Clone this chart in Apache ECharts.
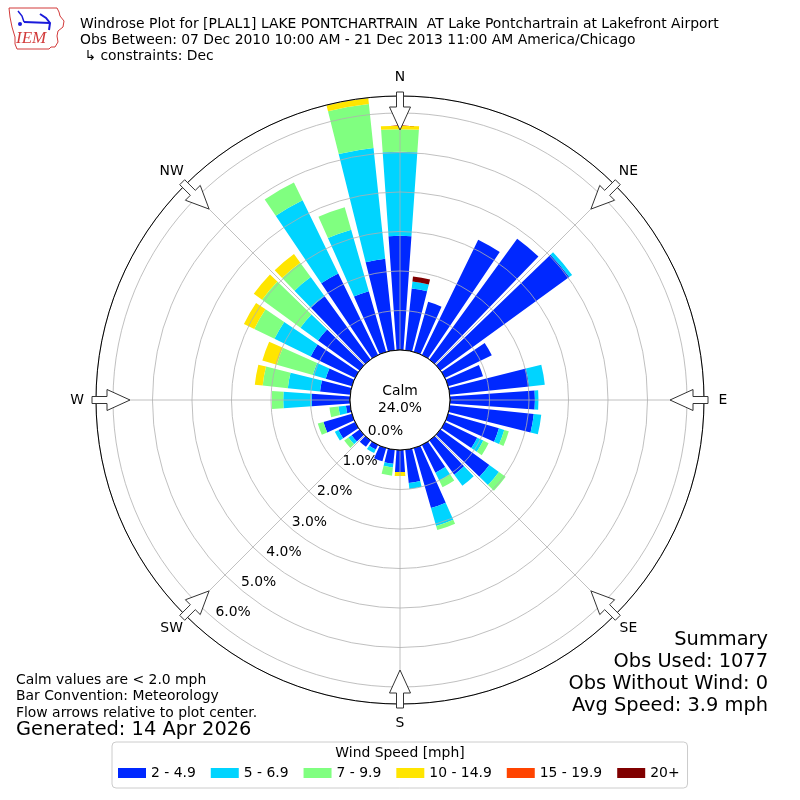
<!DOCTYPE html>
<html>
<head>
<meta charset="utf-8">
<title>Windrose Plot</title>
<script src="https://cdn.jsdelivr.net/npm/echarts@6/dist/echarts.min.js"></script>
<style>
  html, body { margin: 0; padding: 0; background: #fff; }
  #chart { width: 800px; height: 800px; }
</style>
</head>
<body>
<div id="chart"></div>
<script>
// direction bins, bar centre in degrees (10 deg each, clockwise from N)
var directions = [0, 10, 20, 30, 40, 50, 60, 70, 80, 90, 100, 110,
  120, 130, 140, 150, 160, 170, 180, 190, 200, 210, 220, 230,
  240, 250, 260, 270, 280, 290, 300, 310, 320, 330, 340, 350]

var speedBins = ['2 - 4.9', '5 - 6.9', '7 - 9.9', '10 - 14.9', '15 - 19.9', '20+']
var binColors = ['#0028ff', '#00d4ff', '#80ff80', '#ffe500', '#ff4400', '#800000']

// percent of observations, one value per direction
var pct2to5 = [2.89, 1.57, 1.32, 3.25, 3.78, 4.03, 1.32, 0.92, 2.02, 2.15, 2.14, 1.34,
  0.91, 1.53, 1.07, 0.78, 1.58, 0.85, 0.56, 0.36, 0.35, 0.13, 0.20, 0.25,
  0.47, 0.75, 0.11, 0.97, 0.77, 0.69, 1.25, 1.30, 1.98, 2.30, 1.60, 2.33]
var pct5to7 = [2.13, 0.18, 0, 0, 0, 0.09, 0, 0, 0.40, 0.09, 0.19, 0.14,
  0.17, 0.30, 0.35, 0.22, 0.47, 0.15, 0, 0.09, 0, 0.10, 0, 0.10,
  0.10, 0, 0.19, 0.72, 0.82, 0.34, 1.02, 0.55, 0.60, 2.06, 1.62, 2.82]
var pct7to10 = [0.57, 0, 0, 0, 0, 0, 0, 0, 0, 0, 0, 0.12,
  0.15, 0.21, 0, 0.19, 0.11, 0, 0, 0.21, 0, 0, 0, 0.13,
  0, 0.15, 0.23, 0.29, 0.64, 0.95, 0.57, 1.20, 0.45, 0.50, 0.59, 1.12]
var pct10to15 = [0.09, 0, 0, 0, 0, 0, 0, 0, 0, 0, 0, 0,
  0, 0, 0, 0, 0, 0, 0.10, 0, 0, 0, 0, 0,
  0, 0, 0, 0, 0.20, 0.38, 0.29, 0.26, 0.27, 0, 0, 0.15]
var pct15to20 = [0, 0, 0, 0, 0, 0, 0, 0, 0, 0, 0, 0,
  0, 0, 0, 0, 0, 0, 0, 0, 0, 0, 0, 0,
  0, 0, 0, 0, 0, 0, 0, 0, 0, 0, 0, 0]
var pct20up = [0, 0.13, 0, 0, 0, 0, 0, 0, 0, 0, 0, 0,
  0, 0, 0, 0, 0, 0, 0, 0, 0, 0, 0, 0,
  0, 0, 0, 0, 0, 0, 0, 0, 0, 0, 0, 0]

var radiusTicks = [0, 1, 2, 3, 4, 5, 6]
var compassLabels = ['N', 'NE', 'E', 'SE', 'S', 'SW', 'W', 'NW']
var calmPct = 24.0

var titleLines = [
  'Windrose Plot for [PLAL1] LAKE PONTCHARTRAIN  AT Lake Pontchartrain at Lakefront Airport',
  'Obs Between: 07 Dec 2010 10:00 AM - 21 Dec 2013 11:00 AM America/Chicago',
  ' \u21b3 constraints: Dec'
]
var summaryLines = ['Summary', 'Obs Used: 1077', 'Obs Without Wind: 0', 'Avg Speed: 3.9 mph']
var noteLines = ['Calm values are < 2.0 mph', 'Bar Convention: Meteorology', 'Flow arrows relative to plot center.']
var generatedText = 'Generated: 14 Apr 2026'

// layout
var cx = 400
var cy = 400
var innerR = 50
var outerR = 304
var rMax = 6.43
var font = 'DejaVu Sans'
var gridColor = '#b0b0b0'

var allSeries = [pct2to5, pct5to7, pct7to10, pct10to15, pct15to20, pct20up]

function rToPx (v) {
  return innerR + (outerR - innerR) * v / rMax
}

// point at distance s from centre, lateral offset t, compass angle deg
function polarPt (deg, s, t) {
  var a = deg * Math.PI / 180
  return [cx + s * Math.sin(a) + t * Math.cos(a), cy - s * Math.cos(a) + t * Math.sin(a)]
}

var graphics = []

// flow arrows and labels at the 8 compass points
compassLabels.forEach(function (name, i) {
  var deg = i * 45
  var pts = [
    polarPt(deg, 308, -3.5), polarPt(deg, 293, -3.5), polarPt(deg, 293, -10.5),
    polarPt(deg, 270, 0),
    polarPt(deg, 293, 10.5), polarPt(deg, 293, 3.5), polarPt(deg, 308, 3.5)
  ]
  graphics.push({
    type: 'polygon', z: 60,
    shape: { points: pts },
    style: { fill: '#fff', stroke: '#333', lineWidth: 1 }
  })
  var lp = polarPt(deg, 323, 0)
  graphics.push({
    type: 'text', z: 60, x: lp[0], y: lp[1],
    style: { text: name, fontFamily: font, fontSize: 13.9, fill: '#000', align: 'center', verticalAlign: 'middle' }
  })
})

// calm hole
graphics.push({
  type: 'circle', z: 50,
  shape: { cx: cx, cy: cy, r: innerR },
  style: { fill: '#fff', stroke: '#000', lineWidth: 1 }
})
graphics.push({
  type: 'text', z: 55, x: cx, y: cy,
  style: { text: 'Calm\n' + calmPct.toFixed(1) + '%', fontFamily: font, fontSize: 13.9, fill: '#000',
    align: 'center', verticalAlign: 'middle', lineHeight: 17 }
})

// radial tick labels along 220 deg
radiusTicks.forEach(function (v) {
  var p = polarPt(220, rToPx(v), 0)
  graphics.push({
    type: 'text', z: 55, x: p[0], y: p[1],
    style: { text: v.toFixed(1) + '%', fontFamily: font, fontSize: 13.9, fill: '#000',
      align: 'left', verticalAlign: 'bottom' }
  })
})

// header
titleLines.forEach(function (line, i) {
  graphics.push({
    type: 'text', x: 80, y: 24 + i * 16,
    style: { text: line, fontFamily: font, fontSize: 13.9, fill: '#000', align: 'left', verticalAlign: 'middle' }
  })
})

// IEM logo (rough)
graphics.push({
  type: 'polygon',
  shape: { points: [[9, 8], [57, 8], [59, 12], [60, 16], [64, 21], [63, 27], [58, 31], [57, 36], [58, 42],
    [55, 47], [51, 47], [49, 49], [17, 49], [15, 44], [15, 37], [12, 27], [10, 17]] },
  style: { fill: '#fff', stroke: '#d23a3a', lineWidth: 1 }
})
graphics.push({
  type: 'polyline',
  shape: { points: [[24, 22], [50, 23]] },
  style: { stroke: '#1a1adb', lineWidth: 2 }
})
graphics.push({
  type: 'polyline',
  shape: { points: [[18, 11], [22, 16], [24, 22]] },
  style: { stroke: '#1a1adb', lineWidth: 1.5, fill: null }
})
graphics.push({
  type: 'polyline',
  shape: { points: [[40, 14], [46, 18], [50, 23], [49, 30]] },
  style: { stroke: '#1a1adb', lineWidth: 2, fill: null }
})
graphics.push({
  type: 'circle',
  shape: { cx: 20, cy: 24, r: 2 },
  style: { fill: '#1a1adb' }
})
graphics.push({
  type: 'text', x: 16, y: 39,
  style: { text: 'IEM', fontFamily: 'Liberation Serif', fontStyle: 'italic', fontSize: 17, fill: '#d23a3a',
    align: 'left', verticalAlign: 'middle' }
})

// notes, bottom left
noteLines.forEach(function (line, i) {
  graphics.push({
    type: 'text', x: 16, y: 680 + i * 16.5,
    style: { text: line, fontFamily: font, fontSize: 13.9, fill: '#000', align: 'left', verticalAlign: 'middle' }
  })
})
graphics.push({
  type: 'text', x: 16, y: 730,
  style: { text: generatedText, fontFamily: font, fontSize: 19.4, fill: '#000', align: 'left', verticalAlign: 'middle' }
})

// summary, bottom right
summaryLines.forEach(function (line, i) {
  graphics.push({
    type: 'text', x: 768, y: 640 + i * 22,
    style: { text: line, fontFamily: font, fontSize: 19.4, fill: '#000', align: 'right', verticalAlign: 'middle' }
  })
})

// legend title
graphics.push({
  type: 'text', z: 60, x: 400, y: 753,
  style: { text: 'Wind Speed [mph]', fontFamily: font, fontSize: 13.9, fill: '#000', align: 'center', verticalAlign: 'middle' }
})

var myChart = echarts.init(document.getElementById('chart'))
var option = {
  animation: false,
  backgroundColor: '#fff',
  polar: [
    { center: [cx, cy], radius: [innerR, outerR] },
    { center: [cx, cy], radius: [innerR, outerR] }
  ],
  angleAxis: [
    {
      polarIndex: 0,
      type: 'category',
      data: directions,
      startAngle: 95,
      clockwise: true,
      show: false
    },
    {
      polarIndex: 1,
      type: 'value',
      min: 0,
      max: 360,
      interval: 45,
      startAngle: 90,
      clockwise: true,
      z: 5,
      axisLine: { show: true, lineStyle: { color: '#000', width: 1 } },
      axisTick: { show: false },
      axisLabel: { show: false },
      splitLine: { show: true, lineStyle: { color: gridColor, width: 0.8 } }
    }
  ],
  radiusAxis: [
    { polarIndex: 0, type: 'value', min: 0, max: rMax, show: false },
    {
      polarIndex: 1,
      type: 'value',
      min: 0,
      max: rMax,
      interval: 1,
      z: 5,
      axisLine: { show: false },
      axisTick: { show: false },
      axisLabel: { show: false },
      splitLine: { show: true, lineStyle: { color: gridColor, width: 0.8 } }
    }
  ],
  legend: {
    left: 112,
    top: 742,
    orient: 'horizontal',
    icon: 'rect',
    itemWidth: 28,
    itemHeight: 10,
    itemGap: 15,
    padding: [24, 8, 8, 6],
    borderColor: '#cccccc',
    borderWidth: 1,
    borderRadius: 4,
    selectedMode: false,
    textStyle: { fontFamily: font, fontSize: 13.9, color: '#000' },
    data: speedBins
  },
  series: speedBins.map(function (name, i) {
    return {
      type: 'bar',
      name: name,
      coordinateSystem: 'polar',
      polarIndex: 0,
      stack: 'rose',
      barCategoryGap: '20%',
      silent: true,
      itemStyle: { color: binColors[i] },
      data: allSeries[i]
    }
  }),
  graphic: graphics
}
myChart.setOption(option)
</script>
</body>
</html>
